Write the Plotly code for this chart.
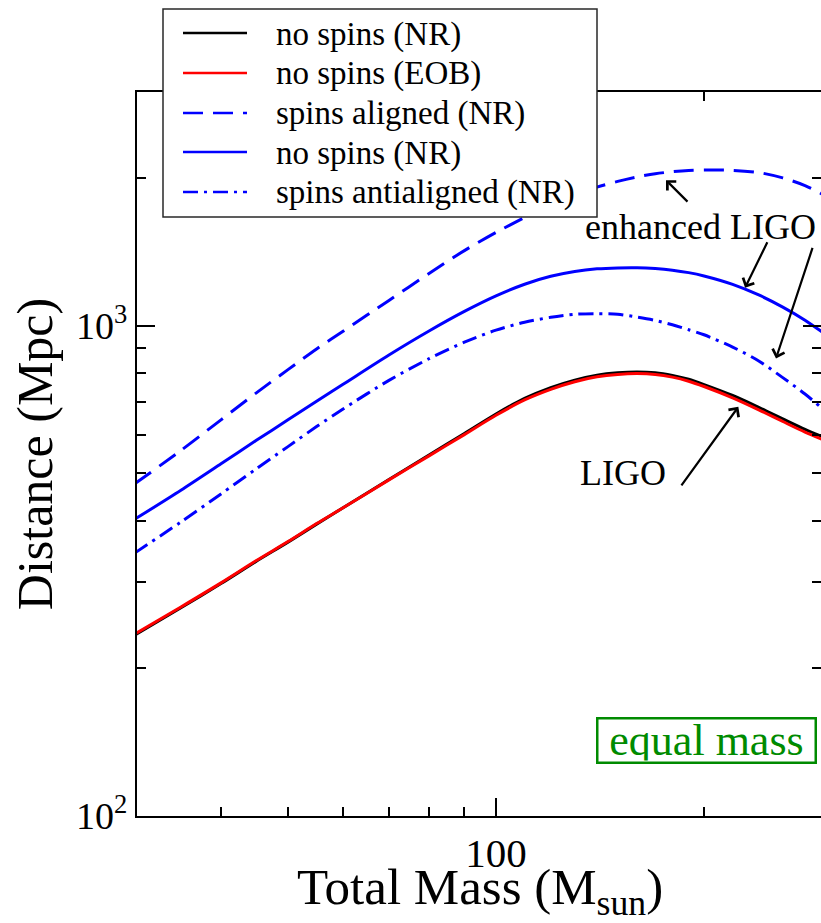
import plotly.graph_objects as go

# ---------------- data ----------------
mass = [30, 35, 40, 45, 50, 55, 60, 70, 80, 90, 100, 110, 120, 130, 140, 150,
        160, 170, 180, 190, 200, 220, 240, 260, 280, 300]

ligo_nospin_nr = [234, 266, 298, 331, 362, 394, 425, 486, 545, 603, 661, 711, 748, 775,
                  793, 802, 805, 802, 792, 778, 759, 721, 682, 646, 615, 590]
ligo_nospin_eob = [235, 267, 299, 332, 363, 395, 425, 485, 543, 600, 657, 706, 742, 769,
                   787, 796, 799, 796, 786, 771, 752, 713, 674, 638, 607, 583]
eligo_aligned = [476, 557, 643, 730, 814, 897, 974, 1127, 1279, 1424, 1551, 1664, 1768, 1851,
                 1919, 1971, 2013, 2043, 2063, 2075, 2079, 2076, 2055, 2004, 1933, 1840]
eligo_nospin = [403, 462, 523, 584, 643, 702, 759, 872, 976, 1070, 1151, 1216, 1262, 1291,
                1307, 1313, 1314, 1309, 1299, 1284, 1264, 1215, 1156, 1092, 1027, 960]
eligo_anti = [344, 398, 454, 511, 567, 623, 676, 774, 857, 926, 980, 1017, 1041, 1056,
              1059, 1056, 1042, 1026, 1005, 982, 959, 905, 848, 784, 726, 669]

legend_labels = ["no spins (NR)", "no spins (EOB)", "spins aligned (NR)",
                 "no spins (NR)", "spins antialigned (NR)"]

x_major = [100]
x_major_text = ["100"]
x_minor = [40, 50, 60, 70, 80, 90, 200, 300]
y_major = [100, 1000]
y_major_text = ["10<sup>2</sup>", "10<sup>3</sup>"]
y_minor = [200, 300, 400, 500, 600, 700, 800, 900, 2000, 3000]

# ---------------- styling ----------------
FONT = "Liberation Serif"
BLUE = "rgb(0,0,255)"
RED = "rgb(255,0,0)"
GREEN = "rgb(0,139,0)"
DASH = "20px,10px"
DASHDOT = "15px,6px,3px,6px"

series = [
    (ligo_nospin_nr, "black", "solid"),
    (ligo_nospin_eob, RED, "solid"),
    (eligo_aligned, BLUE, DASH),
    (eligo_nospin, BLUE, "solid"),
    (eligo_anti, BLUE, DASHDOT),
]

fig = go.Figure()
for (vals, col, dash), name in zip(series, legend_labels):
    fig.add_trace(go.Scatter(x=mass, y=vals, mode="lines", name=name,
                             line=dict(color=col, width=3, dash=dash, shape="spline", smoothing=0.8),
                             showlegend=False))
# invisible trace to carry the mirrored right-hand axis
fig.add_trace(go.Scatter(x=mass, y=eligo_anti, yaxis="y2", mode="lines",
                         line=dict(width=0, color="rgba(0,0,0,0)"), showlegend=False,
                         hoverinfo="skip"))

W, H = 821, 923
L, R, T, B = 137, 0, 92, 107
PW, PH = W - L - R, H - T - B

def px(xp):
    return (xp - L) / PW

def py(yp):
    return (H - B - yp) / PH

# ---------------- manual legend ----------------
shapes = [dict(type="rect", xref="paper", yref="paper", x0=px(163), x1=px(597),
               y0=py(217), y1=py(9), line=dict(color="rgb(40,40,40)", width=1.5),
               fillcolor="white", layer="above")]
annotations = []
leg_y = [33, 73, 113, 152, 192]
for (vals, col, dash), name, yy in zip(series, legend_labels, leg_y):
    shapes.append(dict(type="line", xref="paper", yref="paper", x0=px(183), x1=px(247),
                       y0=py(yy), y1=py(yy), line=dict(color=col, width=2.5, dash=dash),
                       layer="above"))
    annotations.append(dict(xref="paper", yref="paper", x=px(274), y=py(yy + 1), text=name,
                            showarrow=False, xanchor="left", yanchor="middle",
                            font=dict(family=FONT, size=33, color="black")))

# ---------------- text labels and arrows ----------------
annotations += [
    dict(x=2.2952, y=3.202, xref="x", yref="y", text="enhanced LIGO", showarrow=False,
         xanchor="center", yanchor="middle", font=dict(family=FONT, size=36, color="black")),
    dict(x=2.1838, y=2.6988, xref="x", yref="y", text="LIGO", showarrow=False,
         xanchor="center", yanchor="middle", font=dict(family=FONT, size=36, color="black")),
    dict(xref="paper", yref="paper", x=px(706), y=py(740.5), text="equal mass", showarrow=False,
         xanchor="center", yanchor="middle", width=214, height=40, borderpad=1,
         bordercolor=GREEN, borderwidth=2.5, bgcolor="white",
         font=dict(family=FONT, size=44, color=GREEN)),
    # x-axis title, placed below the tick label
    dict(xref="paper", yref="paper", x=px(480), y=py(923), text="Total Mass (M<sub>sun</sub>)",
         showarrow=False, xanchor="center", yanchor="bottom", yshift=-2,
         font=dict(family=FONT, size=51, color="black")),
]
arrows = [
    (2.246, 3.2973, 23, 23),
    (2.3604, 3.0776, 23, -47),
    (2.4052, 2.9335, 37, -112),
    (2.3507, 2.8347, -58, 80),
]
for hx, hy, ax, ay in arrows:
    annotations.append(dict(x=hx, y=hy, xref="x", yref="y", ax=ax, ay=ay, text="",
                            showarrow=True, arrowhead=4, arrowsize=1.1, arrowwidth=2.2,
                            arrowcolor="black", standoff=0))

axis_common = dict(showgrid=False, zeroline=False, ticks="inside", ticklen=18, tickwidth=1.5,
                   tickcolor="black", linecolor="black", linewidth=2)

fig.update_layout(
    width=W, height=H,
    margin=dict(l=L, r=R, t=T, b=B, pad=0),
    paper_bgcolor="white", plot_bgcolor="white",
    showlegend=False,
    xaxis=dict(type="log", range=[1.4805, 2.4703], tickmode="array", tickvals=x_major,
               ticktext=x_major_text, showline=True, mirror="ticks",
               tickfont=dict(family=FONT, size=41, color="black"), ticklabelstandoff=0,
               minor=dict(tickmode="array", tickvals=x_minor, ticks="inside", ticklen=9,
                          tickwidth=1.5, tickcolor="black"),
               **axis_common),
    yaxis=dict(type="log", range=[2, 3.4771], tickmode="array", tickvals=y_major,
               ticktext=y_major_text, showline=True, mirror=False,
               tickfont=dict(family=FONT, size=38, color="black"),
               minor=dict(tickmode="array", tickvals=y_minor, ticks="inside", ticklen=9,
                          tickwidth=1.5, tickcolor="black"),
               title=dict(text="Distance (Mpc)", standoff=8,
                          font=dict(family=FONT, size=50, color="black")),
               **axis_common),
    yaxis2=dict(type="log", range=[2, 3.4771], overlaying="y", side="right", anchor="x",
                tickmode="array", tickvals=y_major, showticklabels=False, showline=False,
                showgrid=False, zeroline=False, ticks="inside", ticklen=18, tickwidth=1.5,
                tickcolor="black",
                minor=dict(tickmode="array", tickvals=y_minor, ticks="inside", ticklen=9,
                           tickwidth=1.5, tickcolor="black")),
    shapes=shapes,
    annotations=annotations,
)

fig.write_html("out.html")
